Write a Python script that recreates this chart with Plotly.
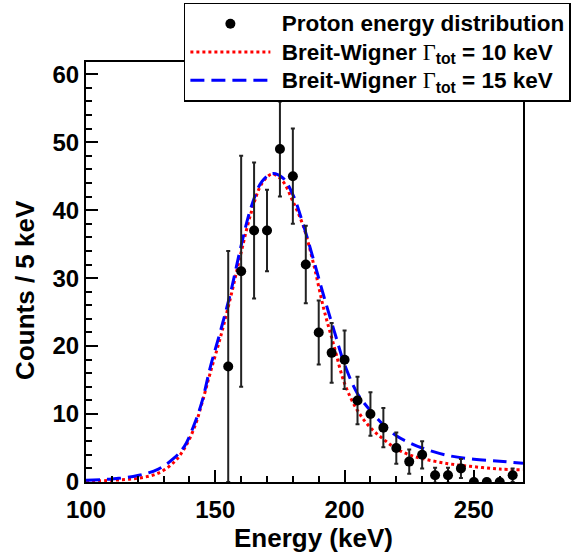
import plotly.graph_objects as go

# Data points (bin centers, counts, symmetric errors)
energy = [155, 160, 165, 170, 175, 180, 185, 190, 195, 200, 205, 210, 215, 220,
          225, 230, 235, 240, 245, 250, 255, 260, 265]
counts = [17, 31, 37, 37, 49, 45, 32, 22, 19, 18, 12, 10, 8, 5,
          3, 4, 1, 1, 2, 0, 0, 0, 1]
errors = [17, 17, 10, 6, 7, 7, 5.7, 4.7, 4.4, 4.3, 3.5, 3.2, 2.9, 2.3,
          1.8, 2.0, 1.1, 1.1, 1.4, 0, 0, 0, 1.0]

# Fitted curves
curve_e = [100, 110, 120, 128, 134, 138, 142, 145, 148, 152, 156, 160, 164, 168,
           172, 176, 180, 184, 188, 192, 196, 200, 205, 210, 215, 220, 225, 230,
           240, 250, 260, 269]
bw10 = [0.1, 0.25, 0.55, 1.3, 2.9, 4.9, 8.1, 11.8, 16.0, 21.3, 27.3, 33.8, 39.8, 43.9,
        45.3, 44.3, 41.3, 37.7, 32.1, 25.4, 19.9, 14.5, 10.5, 8.0, 6.3, 4.9, 4.0, 3.45,
        2.7, 2.25, 1.9, 1.8]
bw15 = [0.25, 0.45, 0.95, 1.9, 3.5, 5.2, 8.6, 12.0, 16.8, 22.2, 28.0, 34.8, 40.6, 44.2,
        45.4, 44.8, 42.3, 37.9, 32.7, 27.3, 22.2, 17.3, 13.0, 10.5, 8.4, 6.8, 5.8, 5.0,
        3.9, 3.35, 3.05, 2.75]

GAMMA = "<span style='font-family:Liberation Serif;font-weight:normal'>\u0393</span><sub>tot</sub>"
legend_names = [
    "\u00a0Proton energy distribution",
    "\u00a0Breit-Wigner " + GAMMA + " = 10 keV",
    "\u00a0Breit-Wigner " + GAMMA + " = 15 keV",
]
legend_names = ["<span style='font-size:22.5px'>" + n + "</span>" for n in legend_names]

fig = go.Figure()

fig.add_trace(go.Scatter(
    x=curve_e, y=bw10, mode="lines", name=legend_names[1], legendrank=2,
    line=dict(color="#ff0000", width=3, dash="dot", shape="spline"),
))
fig.add_trace(go.Scatter(
    x=curve_e, y=bw15, mode="lines", name=legend_names[2], legendrank=3,
    line=dict(color="#0000ff", width=3, dash="14px,7px", shape="spline"),
))
fig.add_trace(go.Scatter(
    x=energy, y=counts, mode="markers", name=legend_names[0], legendrank=1,
    marker=dict(color="black", size=10),
    error_y=dict(type="data", array=errors, visible=True, color="#222222",
                 thickness=2, width=2),
))

FAMILY = "Liberation Sans, Arial, sans-serif"
font_tick = dict(family=FAMILY, size=24, color="black", weight="bold")
font_title = dict(family=FAMILY, size=26, color="black", weight="bold")

axis_common = dict(
    showline=True, linecolor="black", linewidth=2, mirror=True,
    showgrid=False, zeroline=False,
    ticks="inside", ticklen=12, tickwidth=2, tickcolor="black",
    tickfont=font_tick,
)

fig.update_layout(
    width=575, height=553,
    margin=dict(l=86, r=52, t=62, b=71, autoexpand=False),
    paper_bgcolor="white", plot_bgcolor="white",
    showlegend=True,
    legend=dict(
        x=0.224, y=1.1405, xanchor="left", yanchor="top",
        bgcolor="white", bordercolor="black", borderwidth=1.5,
        font=dict(family=FAMILY, size=19.5, color="black", weight="bold"),
        itemwidth=80,
    ),
    xaxis=dict(
        range=[100, 269], tick0=100, dtick=50, ticklabelstandoff=5,
        minor=dict(dtick=10, ticks="inside", ticklen=6, tickwidth=2, tickcolor="black"),
        **axis_common,
    ),
    yaxis=dict(
        range=[0, 61.8], tick0=0, dtick=10,
        minor=dict(dtick=2, ticks="inside", ticklen=6, tickwidth=2, tickcolor="black"),
        **axis_common,
    ),
    annotations=[
        dict(text="Energy (keV)", xref="paper", yref="paper", x=0.520, y=-0.133,
             xanchor="center", yanchor="middle", showarrow=False, font=font_title),
        dict(text="Counts / 5 keV", xref="paper", yref="paper", x=-0.14, y=0.457,
             xanchor="center", yanchor="middle", showarrow=False, textangle=-90,
             font=font_title),
    ],
)

fig.write_html("out.html")
